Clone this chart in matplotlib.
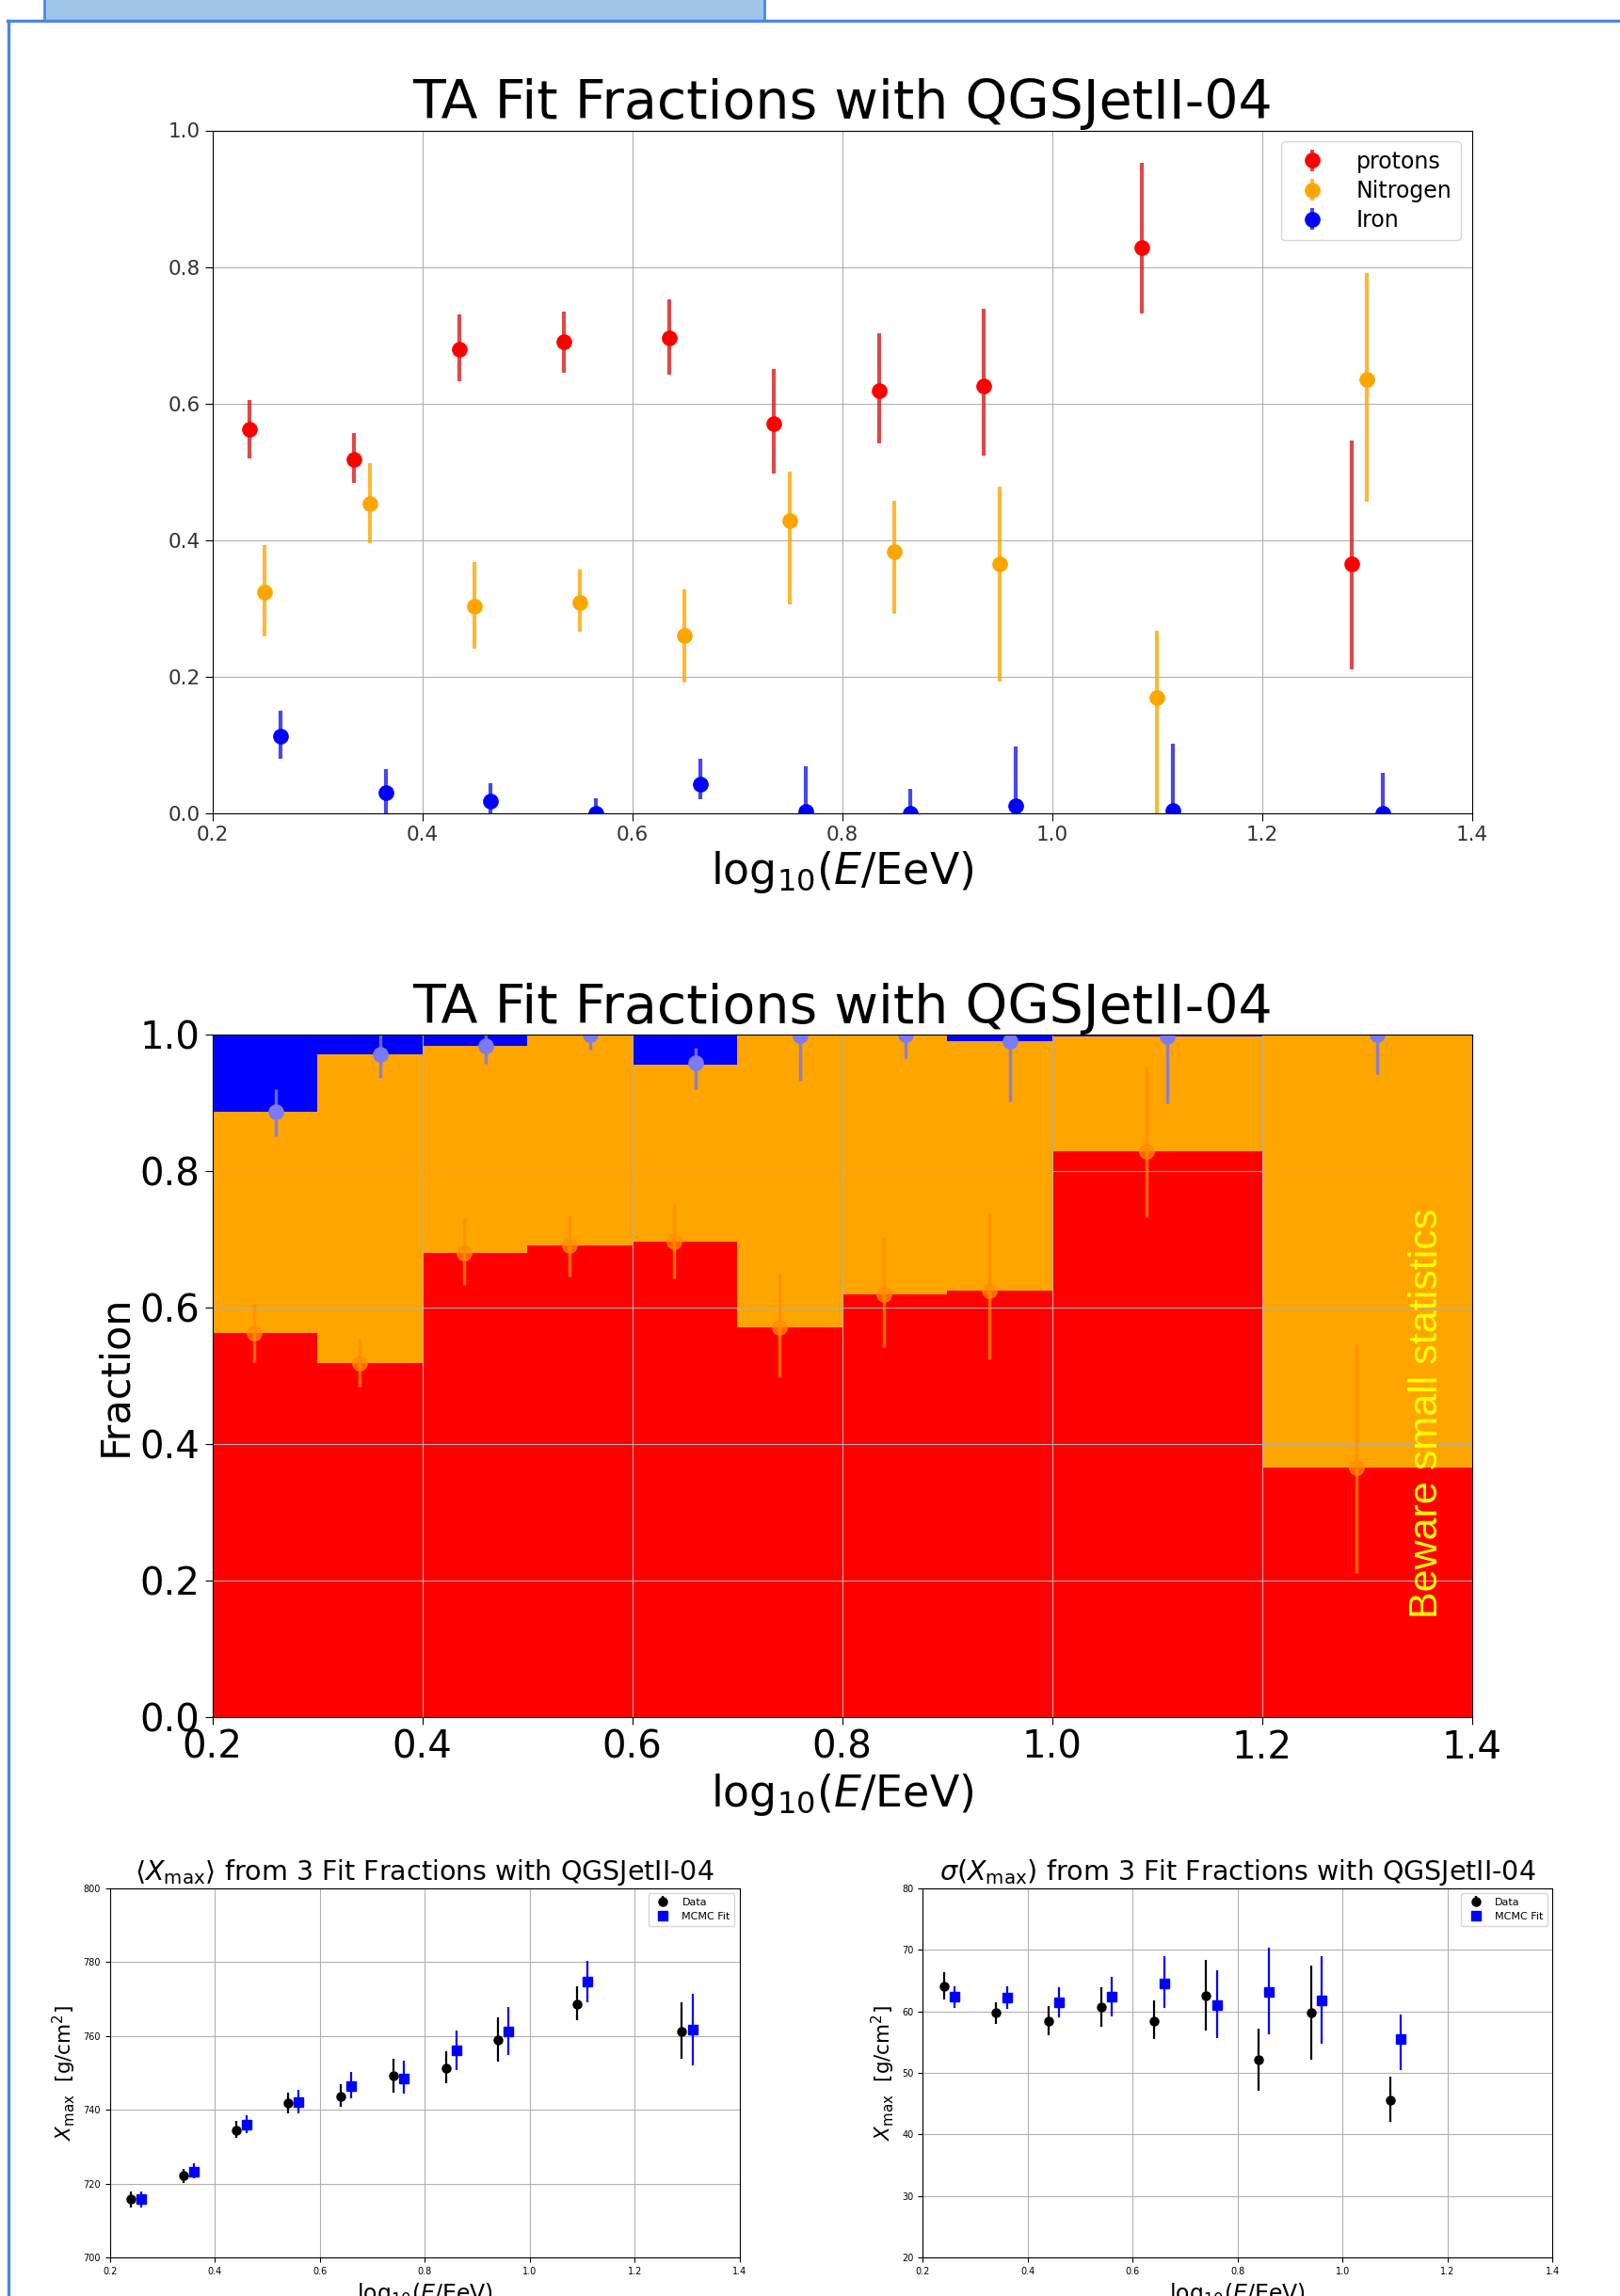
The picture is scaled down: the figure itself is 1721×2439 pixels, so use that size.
import numpy as np
import matplotlib
matplotlib.use("Agg")
import matplotlib.pyplot as plt
from matplotlib.patches import Rectangle
from matplotlib.lines import Line2D

# ---------------- data ----------------
bin_edges = [0.2, 0.3, 0.4, 0.5, 0.6, 0.7, 0.8, 0.9, 1.0, 1.2, 1.4]
bin_centers = [0.25, 0.35, 0.45, 0.55, 0.65, 0.75, 0.85, 0.95, 1.1, 1.3]

p_frac = [0.562, 0.518, 0.680, 0.690, 0.696, 0.571, 0.619, 0.625, 0.828, 0.365]
p_lo = [0.519, 0.484, 0.633, 0.645, 0.642, 0.498, 0.542, 0.524, 0.732, 0.211]
p_hi = [0.605, 0.556, 0.731, 0.734, 0.752, 0.651, 0.703, 0.739, 0.952, 0.546]

n_frac = [0.324, 0.453, 0.303, 0.309, 0.260, 0.429, 0.383, 0.365, 0.169, 0.635]
n_lo = [0.259, 0.395, 0.241, 0.265, 0.191, 0.305, 0.292, 0.192, 0.0, 0.456]
n_hi = [0.393, 0.513, 0.368, 0.357, 0.328, 0.500, 0.458, 0.478, 0.267, 0.791]

fe_frac = [0.113, 0.030, 0.017, 0.0, 0.042, 0.002, 0.0, 0.010, 0.003, 0.0]
fe_lo = [0.080, 0.0, 0.0, 0.0, 0.020, 0.0, 0.0, 0.0, 0.0, 0.0]
fe_hi = [0.150, 0.064, 0.043, 0.022, 0.080, 0.068, 0.035, 0.098, 0.101, 0.059]

# <Xmax>
xm_data = [715.7, 722.1, 734.4, 741.7, 743.6, 749.1, 751.2, 758.9, 768.7, 761.3]
xm_data_lo = [713.6, 720.2, 732.3, 739.1, 740.7, 744.7, 747.1, 753.0, 764.3, 753.9]
xm_data_hi = [717.8, 724.0, 736.9, 744.5, 747.0, 753.7, 755.9, 765.1, 773.4, 769.2]
xm_fit = [715.7, 723.2, 735.9, 742.0, 746.3, 748.4, 756.1, 761.1, 774.6, 761.7]
xm_fit_lo = [713.6, 721.4, 733.7, 739.1, 743.1, 744.4, 750.8, 754.8, 769.2, 752.1]
xm_fit_hi = [717.9, 725.5, 738.5, 745.3, 750.2, 753.2, 761.5, 767.7, 780.2, 771.4]

# sigma(Xmax) (first 9 bins)
sg_data = [64.0, 59.7, 58.4, 60.7, 58.4, 62.5, 52.1, 59.7, 45.6]
sg_data_lo = [61.9, 58.0, 56.1, 57.5, 55.5, 56.9, 47.1, 52.2, 42.1]
sg_data_hi = [66.3, 61.5, 60.9, 63.9, 61.7, 68.3, 57.1, 67.4, 49.4]
sg_fit = [62.3, 62.2, 61.5, 62.3, 64.5, 61.0, 63.2, 61.8, 55.5]
sg_fit_lo = [60.6, 60.4, 59.0, 59.1, 60.5, 55.7, 56.2, 54.7, 50.4]
sg_fit_hi = [64.1, 64.1, 63.9, 65.6, 68.9, 66.7, 70.3, 68.9, 59.5]

TITLE = "TA Fit Fractions with QGSJetII-04"
XLAB = r"log$_{10}$($E$/EeV)"

# ---------------- helpers ----------------
def asym(vals, lo, hi):
    v = np.asarray(vals, float)
    return np.vstack([v - np.asarray(lo, float), np.asarray(hi, float) - v])

W, H = 1721.0, 2439.0
fig = plt.figure(figsize=(W / 100, H / 100), dpi=100)
fig.patch.set_facecolor("white")

def ax_at(x0, y0, x1, y1):
    return fig.add_axes([x0 / W, 1 - y1 / H, (x1 - x0) / W, (y1 - y0) / H])

# ---------------- frame decoration ----------------
frame_blue = "#4a86e8"
fig.add_artist(Rectangle((47 / W, 1 - 22 / H), (812 - 47) / W, 24 / H,
                         transform=fig.transFigure, facecolor="#9fc5e8",
                         edgecolor=frame_blue, linewidth=2.0, zorder=0))
fig.add_artist(Line2D([8 / W, 1.0], [1 - 22 / H, 1 - 22 / H], transform=fig.transFigure,
                      color=frame_blue, linewidth=2.4))
fig.add_artist(Line2D([9 / W, 9 / W], [1 - 22 / H, 0.0], transform=fig.transFigure,
                      color=frame_blue, linewidth=2.4))

centers = np.asarray(bin_centers)
edges = np.asarray(bin_edges)
widths = np.diff(edges)

# ---------------- top panel ----------------
ax1 = ax_at(225.6, 138.5, 1563.8, 863.6)
ax1.errorbar(centers - 0.015, p_frac, yerr=asym(p_frac, p_lo, p_hi), fmt="o",
             color="red", ms=11, elinewidth=3, ecolor=(0.85, 0.1, 0.1, 0.8), label="protons")
ax1.errorbar(centers, n_frac, yerr=asym(n_frac, n_lo, n_hi), fmt="o",
             color="orange", ms=11, elinewidth=3, ecolor=(1.0, 0.65, 0.0, 0.8), label="Nitrogen")
ax1.errorbar(centers + 0.015, fe_frac, yerr=asym(fe_frac, fe_lo, fe_hi), fmt="o",
             color="blue", ms=11, elinewidth=3, ecolor=(0.1, 0.1, 0.9, 0.8), label="Iron")
ax1.set_xlim(0.2, 1.4)
ax1.set_ylim(0.0, 1.0)
ax1.grid(True)
ax1.set_title(TITLE, fontsize=41)
ax1.set_xlabel(XLAB, fontsize=33)
ax1.tick_params(labelsize=15.5, length=6, labelcolor="#333333")
ax1.legend(loc="upper right", fontsize=17, labelspacing=0.3, handletextpad=1.0)

# ---------------- middle panel ----------------
ax2 = ax_at(225.6, 1098.6, 1563.8, 1823.7)
p_arr = np.asarray(p_frac)
n_arr = np.asarray(n_frac)
fe_arr = np.asarray(fe_frac)
ax2.bar(edges[:-1], p_arr, width=widths, align="edge", color="red", linewidth=0)
ax2.bar(edges[:-1], n_arr, width=widths, bottom=p_arr, align="edge", color="orange", linewidth=0)
ax2.bar(edges[:-1], fe_arr, width=widths, bottom=p_arr + n_arr, align="edge", color="blue", linewidth=0)
ax2.errorbar(centers - 0.01, p_frac, yerr=asym(p_frac, p_lo, p_hi), fmt="o",
             color="darkorange", alpha=0.75, ms=11, elinewidth=2.5)
fe_comp = 1.0 - fe_arr
ax2.errorbar(centers + 0.01, fe_comp,
             yerr=np.vstack([np.asarray(fe_hi) - fe_arr, fe_arr - np.asarray(fe_lo)]),
             fmt="o", color="#7b7bf7", ms=11, elinewidth=2.5, ecolor=(0.47, 0.47, 0.93, 0.85))
ax2.text(1.357, 0.145, "Beware small statistics", rotation=90, color="yellow",
         fontsize=31, family="Liberation Sans", ha="center", va="bottom")
ax2.set_xlim(0.2, 1.4)
ax2.set_ylim(0.0, 1.0)
ax2.grid(True)
ax2.set_title(TITLE, fontsize=41)
ax2.set_xlabel(XLAB, fontsize=33)
ax2.set_ylabel("Fraction", fontsize=31)
ax2.tick_params(labelsize=29, length=6)

# ---------------- bottom panels ----------------
def bottom_panel(ax, xd, yd, ylo, yhi, xf, yf, flo, fhi, title, ylim, yticks):
    ax.errorbar(xd, yd, yerr=asym(yd, ylo, yhi), fmt="o", color="black", ms=6.5,
                elinewidth=1.6, label="Data")
    ax.errorbar(xf, yf, yerr=asym(yf, flo, fhi), fmt="s", color="blue", ms=6.5,
                elinewidth=1.6, label="MCMC Fit")
    ax.set_xlim(0.2, 1.4)
    ax.set_ylim(*ylim)
    ax.set_yticks(yticks)
    ax.grid(True)
    ax.set_title(title, fontsize=20.5)
    ax.set_xlabel(XLAB, fontsize=17)
    ax.set_ylabel(r"$X_{\mathrm{max}}$  [g/cm$^2$]", fontsize=15.5)
    ax.tick_params(labelsize=7, length=3.5)
    ax.legend(loc="upper right", fontsize=8)

ax3 = ax_at(116.7, 2005.8, 785.8, 2398.0)
bottom_panel(ax3, centers - 0.01, xm_data, xm_data_lo, xm_data_hi,
             centers + 0.01, xm_fit, xm_fit_lo, xm_fit_hi,
             r"$\langle X_{\mathrm{max}}\rangle$ from 3 Fit Fractions with QGSJetII-04",
             (700, 800), np.arange(700, 801, 20))

nsg = len(sg_data)
ax4 = ax_at(980.3, 2005.8, 1649.4, 2398.0)
bottom_panel(ax4, centers[:nsg] - 0.01, sg_data, sg_data_lo, sg_data_hi,
             centers[:nsg] + 0.01, sg_fit, sg_fit_lo, sg_fit_hi,
             r"$\sigma(X_{\mathrm{max}})$ from 3 Fit Fractions with QGSJetII-04",
             (20, 80), np.arange(20, 81, 10))

fig.savefig("out.png", dpi=100)
